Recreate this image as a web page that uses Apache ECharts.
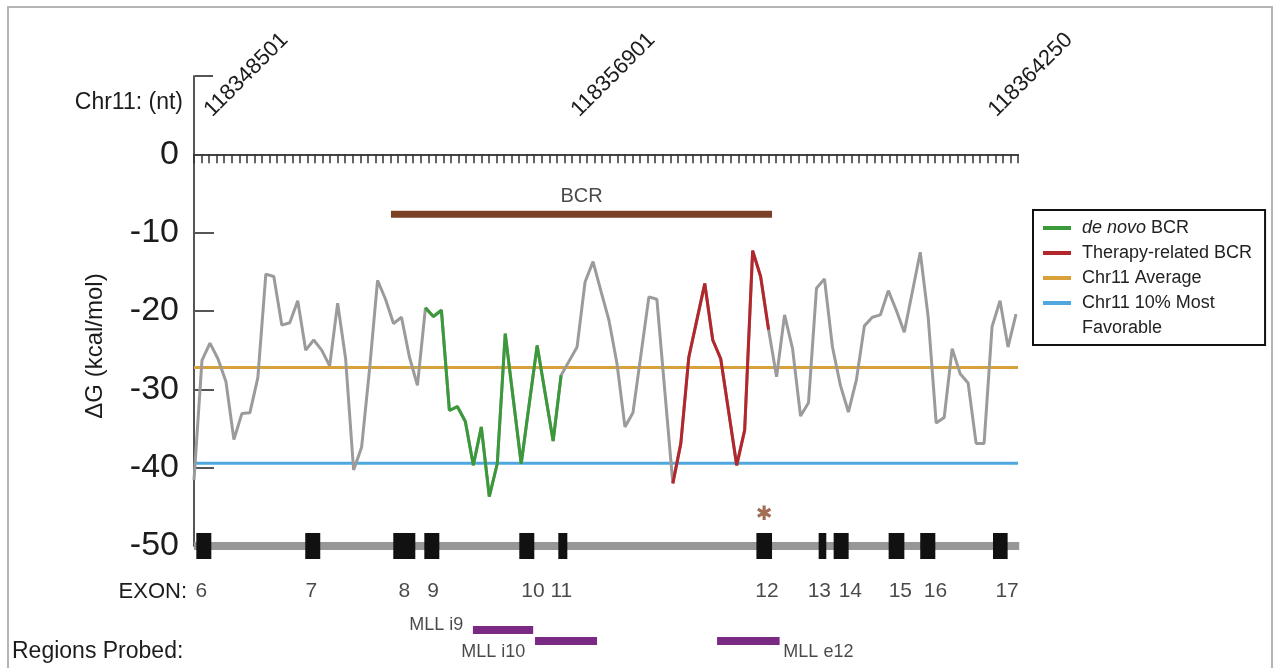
<!DOCTYPE html>
<html><head><meta charset="utf-8">
<script src="https://cdn.jsdelivr.net/npm/echarts@6/dist/echarts.min.js"></script>
<style>html,body{margin:0;padding:0;background:#fff}#c{width:1277px;height:668px}</style>
</head><body><div id="c"></div>
<script>
// ---- data ----
// ΔG (kcal/mol) per sampled window, window index -1 .. 102
const dG = [-41.6,
  -26.3,-24.1,-26.1,-29.0,-36.4,-33.1,-33.0,-28.5,-15.3,-15.6,
  -21.8,-21.5,-18.7,-25.0,-23.7,-25.0,-27.0,-19.0,-26.1,-40.3,
  -37.4,-27.4,-16.1,-18.5,-21.6,-20.8,-25.9,-29.5,-19.6,-20.7,
  -19.9,-32.7,-32.2,-34.1,-39.7,-34.8,-43.7,-39.5,-22.9,-31.2,
  -39.5,-31.9,-24.4,-30.5,-36.6,-28.2,-26.4,-24.6,-16.3,-13.7,
  -17.5,-21.2,-26.7,-34.8,-33.0,-25.6,-18.2,-18.5,-30.3,-42.0,
  -36.9,-25.9,-21.2,-16.5,-23.7,-26.1,-32.9,-39.7,-35.2,-12.3,
  -15.6,-22.4,-28.4,-20.5,-24.8,-33.4,-31.7,-17.1,-15.9,-24.6,
  -29.5,-32.9,-28.8,-21.9,-20.8,-20.5,-17.4,-19.9,-22.7,-17.6,
  -12.5,-20.8,-34.3,-33.6,-24.8,-28.0,-29.2,-36.9,-36.9,-22.0,
  -18.7,-24.6,-20.4];
const firstWindow = -1;
const denovoRange = [28, 45];     // window indices drawn green
const therapyRange = [59, 71];    // window indices drawn red
const chr11Average = -27.2;
const chr11Top10 = -39.45;
const yTickValues = [0, -10, -20, -30, -40, -50];
const yInnerTicks = [-10, -20, -30, -40];
const ntLabels = ['118348501', '118356901', '118364250'];
const ntLabelAt = [1.85, 50.4, 105.6];          // positions on the nt ruler scale
const exonNames = ['6','7','8','9','10','11','12','13','14','15','16','17'];
const exonStart = [-0.71,12.94,23.97,27.86,39.76,44.65,69.47,77.27,79.15,86.04,90.0,99.12];
const exonEnd   = [1.17,14.82,26.73,29.74,41.64,45.78,71.43,78.23,81.03,88.01,91.89,100.95];
const exonLabelAt = [-0.09,13.7,25.35,28.95,41.48,45.03,70.8,77.36,81.24,87.51,91.9,100.88];
const markedExon = '12';
const bcrSpan = [23.68, 71.43];
const bcrLevel = -7.65;
const probeNames = ['MLL i9', 'MLL i10', 'MLL e12'];
const probeStart = [33.95, 41.73, 64.54];
const probeEnd   = [41.5, 49.5, 72.38];
const probeRow   = [58, 69, 69];
const probeLabelAt = [[32.75, 53, 'right'], [36.5, 79.7, 'center'], [72.85, 79.7, 'left']];

// ---- chart ----
const NF = "'Liberation Sans',Arial,sans-serif";
const XMIN = -1, XMAX = 102.25;
const gray = '#9b9b9b', green = '#3a9a3a', red = '#b3262b', orange = '#d9a13b', blue = '#4ea7df';
const brown = '#7b4127', purple = '#7b2a84', ink = '#1c1c1c';

const pts = dG.map((v, i) => [i + firstWindow, v]);
const seg = r => pts.filter(p => p[0] >= r[0] && p[0] <= r[1]);
const exonData = exonStart.map((s, i) => [s, exonEnd[i], -50, exonNames[i]]);
const mi = exonNames.indexOf(markedExon);
const markX = (exonStart[mi] + exonEnd[mi]) / 2;

const chart = echarts.init(document.getElementById('c'), null, {renderer: 'canvas'});
chart.setOption({
  animation: false,
  backgroundColor: '#fff',
  textStyle: {fontFamily: NF},
  grid: [
    {left: 194, top: 76, width: 824, height: 470, outerBoundsMode: 'none', containLabel: false},
    {left: 194, top: 572, width: 824, height: 96, outerBoundsMode: 'none', containLabel: false}
  ],
  xAxis: [
    {gridIndex: 0, type: 'value', min: XMIN, max: XMAX, show: false, axisLine: {onZero: false}},
    {gridIndex: 0, type: 'value', position: 'top', min: 0, max: 109, interval: 1,
      axisLine: {show: true, onZero: true, lineStyle: {color: '#444', width: 2}},
      axisTick: {show: true, inside: true, length: 9, lineStyle: {color: '#333', width: 1.5}},
      splitLine: {show: false},
      axisLabel: {show: false}
    },
    {gridIndex: 1, type: 'value', min: XMIN, max: XMAX, show: false, axisLine: {onZero: false}}
  ],
  yAxis: [
    {gridIndex: 0, type: 'value', min: -50, max: 10, interval: 10,
      axisLine: {show: true, onZero: false, lineStyle: {color: '#555', width: 2}},
      axisTick: {show: true, inside: true, length: 20, customValues: yInnerTicks, lineStyle: {color: '#555', width: 2}},
      splitLine: {show: false},
      axisLabel: {customValues: yTickValues, fontSize: 34, margin: 15, color: ink, fontFamily: NF,
        formatter: v => (v > 0 ? '' : String(v))}
    },
    {gridIndex: 1, type: 'value', min: 0, max: 96, inverse: true, show: false, axisLine: {onZero: false}}
  ],
  legend: {
    orient: 'vertical', left: 1033, top: 210,
    data: ['de novo BCR', 'Therapy-related BCR', 'Chr11 Average', 'Chr11 10% Most Favorable'],
    icon: 'rect', itemWidth: 28, itemHeight: 4, itemGap: 7,
    padding: [9, 13, 33, 10],
    borderColor: '#111', borderWidth: 2, borderRadius: 0,
    selectedMode: false,
    formatter: n => n === 'de novo BCR' ? '{it|de novo} BCR' : (n === 'Chr11 10% Most Favorable' ? 'Chr11 10% Most' : n),
    textStyle: {fontSize: 18, color: '#222', fontFamily: NF, padding: [0, 0, 0, 6],
      rich: {it: {fontStyle: 'italic', fontSize: 18, color: '#222', fontFamily: NF}}}
  },
  series: [
    {name: 'Chr11 Average', type: 'line', xAxisIndex: 0, yAxisIndex: 0, data: [[XMIN, chr11Average], [XMAX, chr11Average]],
      symbol: 'none', color: orange, lineStyle: {color: orange, width: 3}, z: 2},
    {name: 'Chr11 10% Most Favorable', type: 'line', data: [[XMIN, chr11Top10], [XMAX, chr11Top10]],
      symbol: 'none', color: blue, lineStyle: {color: blue, width: 3}, z: 2},
    {name: 'BCR region', type: 'line', data: pts, symbol: 'none', color: gray,
      lineStyle: {color: gray, width: 3}, z: 3},
    {name: 'de novo BCR', type: 'line', data: seg(denovoRange), symbol: 'none', color: green,
      lineStyle: {color: green, width: 3}, z: 4},
    {name: 'Therapy-related BCR', type: 'line', data: seg(therapyRange), symbol: 'none', color: red,
      lineStyle: {color: red, width: 3}, z: 4},
    {name: 'gene track', type: 'line', data: [[XMIN, -50], [XMAX + 0.15, -50]], clip: false, symbol: 'none',
      lineStyle: {color: '#979797', width: 8}, z: 2},
    {name: 'exons', type: 'custom', data: exonData, encode: {x: [0, 1], y: 2}, clip: false, z: 5,
      renderItem: (params, api) => {
        const s = api.coord([api.value(0), api.value(2)]);
        const e = api.coord([api.value(1), api.value(2)]);
        return {type: 'rect', shape: {x: s[0], y: s[1] - 13, width: e[0] - s[0], height: 26}, style: {fill: '#111'}};
      }},
    {name: 'BCR', type: 'line', data: [[bcrSpan[0], bcrLevel], [bcrSpan[1], bcrLevel]], symbol: 'none',
      lineStyle: {color: brown, width: 7}, z: 4},
    {name: 'BCR label', type: 'scatter', data: [[(bcrSpan[0] + bcrSpan[1]) / 2, bcrLevel]], symbolSize: 0,
      label: {show: true, position: 'top', distance: 8, formatter: 'BCR', fontSize: 20, color: ink, fontFamily: NF}},
    {name: 'marked exon', type: 'scatter', data: [[markX, -46]], symbolSize: 0, clip: false,
      label: {show: true, position: 'inside', formatter: '\u2731', fontSize: 20, color: '#8b4a28', fontFamily: "'DejaVu Sans'"}},
    {name: 'exon labels', type: 'scatter', xAxisIndex: 2, yAxisIndex: 1, symbolSize: 0,
      data: exonLabelAt.map((x, i) => ({value: [x, 19.7], name: exonNames[i]})),
      label: {show: true, position: 'inside', formatter: p => p.name, fontSize: 21, color: ink, fontFamily: NF}},
    {name: 'probes', type: 'custom', xAxisIndex: 2, yAxisIndex: 1,
      data: probeStart.map((s, i) => [s, probeEnd[i], probeRow[i]]), encode: {x: [0, 1], y: 2},
      renderItem: (params, api) => {
        const s = api.coord([api.value(0), api.value(2)]);
        const e = api.coord([api.value(1), api.value(2)]);
        return {type: 'rect', shape: {x: s[0], y: s[1] - 4, width: e[0] - s[0], height: 8}, style: {fill: purple}};
      }},
    {name: 'probe labels', type: 'scatter', xAxisIndex: 2, yAxisIndex: 1, symbolSize: 0,
      data: probeLabelAt.map((p, i) => ({value: [p[0], p[1]], name: probeNames[i],
        label: {align: p[2]}})),
      label: {show: true, position: 'inside', formatter: p => p.name, fontSize: 18, color: ink, fontFamily: NF}}
  ]
});

// nt ruler labels, placed through the ruler axis scale
const rulerY = chart.convertToPixel({yAxisIndex: 0}, 0);
const ntTexts = ntLabels.map((t, i) => ({
  type: 'text', silent: true,
  x: chart.convertToPixel({xAxisIndex: 1}, ntLabelAt[i]), y: rulerY - 41,
  rotation: Math.PI / 4,
  style: {text: t, align: 'left', verticalAlign: 'middle', fontSize: 22, fontFamily: NF, fill: ink}
}));

chart.setOption({
  graphic: [
    {type: 'rect', silent: true, shape: {x: 8, y: 7, width: 1264, height: 720},
      style: {fill: 'none', stroke: '#b5b5b5', lineWidth: 2}},
    {type: 'polyline', silent: true, shape: {points: [[195, 76], [213, 76]]}, style: {stroke: '#555', lineWidth: 2}},
    {type: 'text', silent: true, x: 183, y: 103, style: {text: 'Chr11: (nt)', align: 'right', verticalAlign: 'middle',
      fontSize: 23, fontFamily: NF, fill: ink}},
    {type: 'text', silent: true, x: 95, y: 346, rotation: Math.PI / 2, style: {text: '\u0394G (kcal/mol)', align: 'center',
      verticalAlign: 'middle', fontSize: 24, fontFamily: NF, fill: ink}},
    {type: 'text', silent: true, x: 187, y: 592, style: {text: 'EXON:', align: 'right', verticalAlign: 'middle',
      fontSize: 22, fontFamily: NF, fill: ink}},
    {type: 'text', silent: true, x: 12, y: 652, style: {text: 'Regions Probed:', align: 'left', verticalAlign: 'middle',
      fontSize: 23, fontFamily: NF, fill: ink}},
    {type: 'text', silent: true, x: 1082, y: 328, style: {text: 'Favorable', align: 'left', verticalAlign: 'middle',
      fontSize: 18, fontFamily: NF, fill: '#222'}}
  ].concat(ntTexts)
});
</script></body></html>
